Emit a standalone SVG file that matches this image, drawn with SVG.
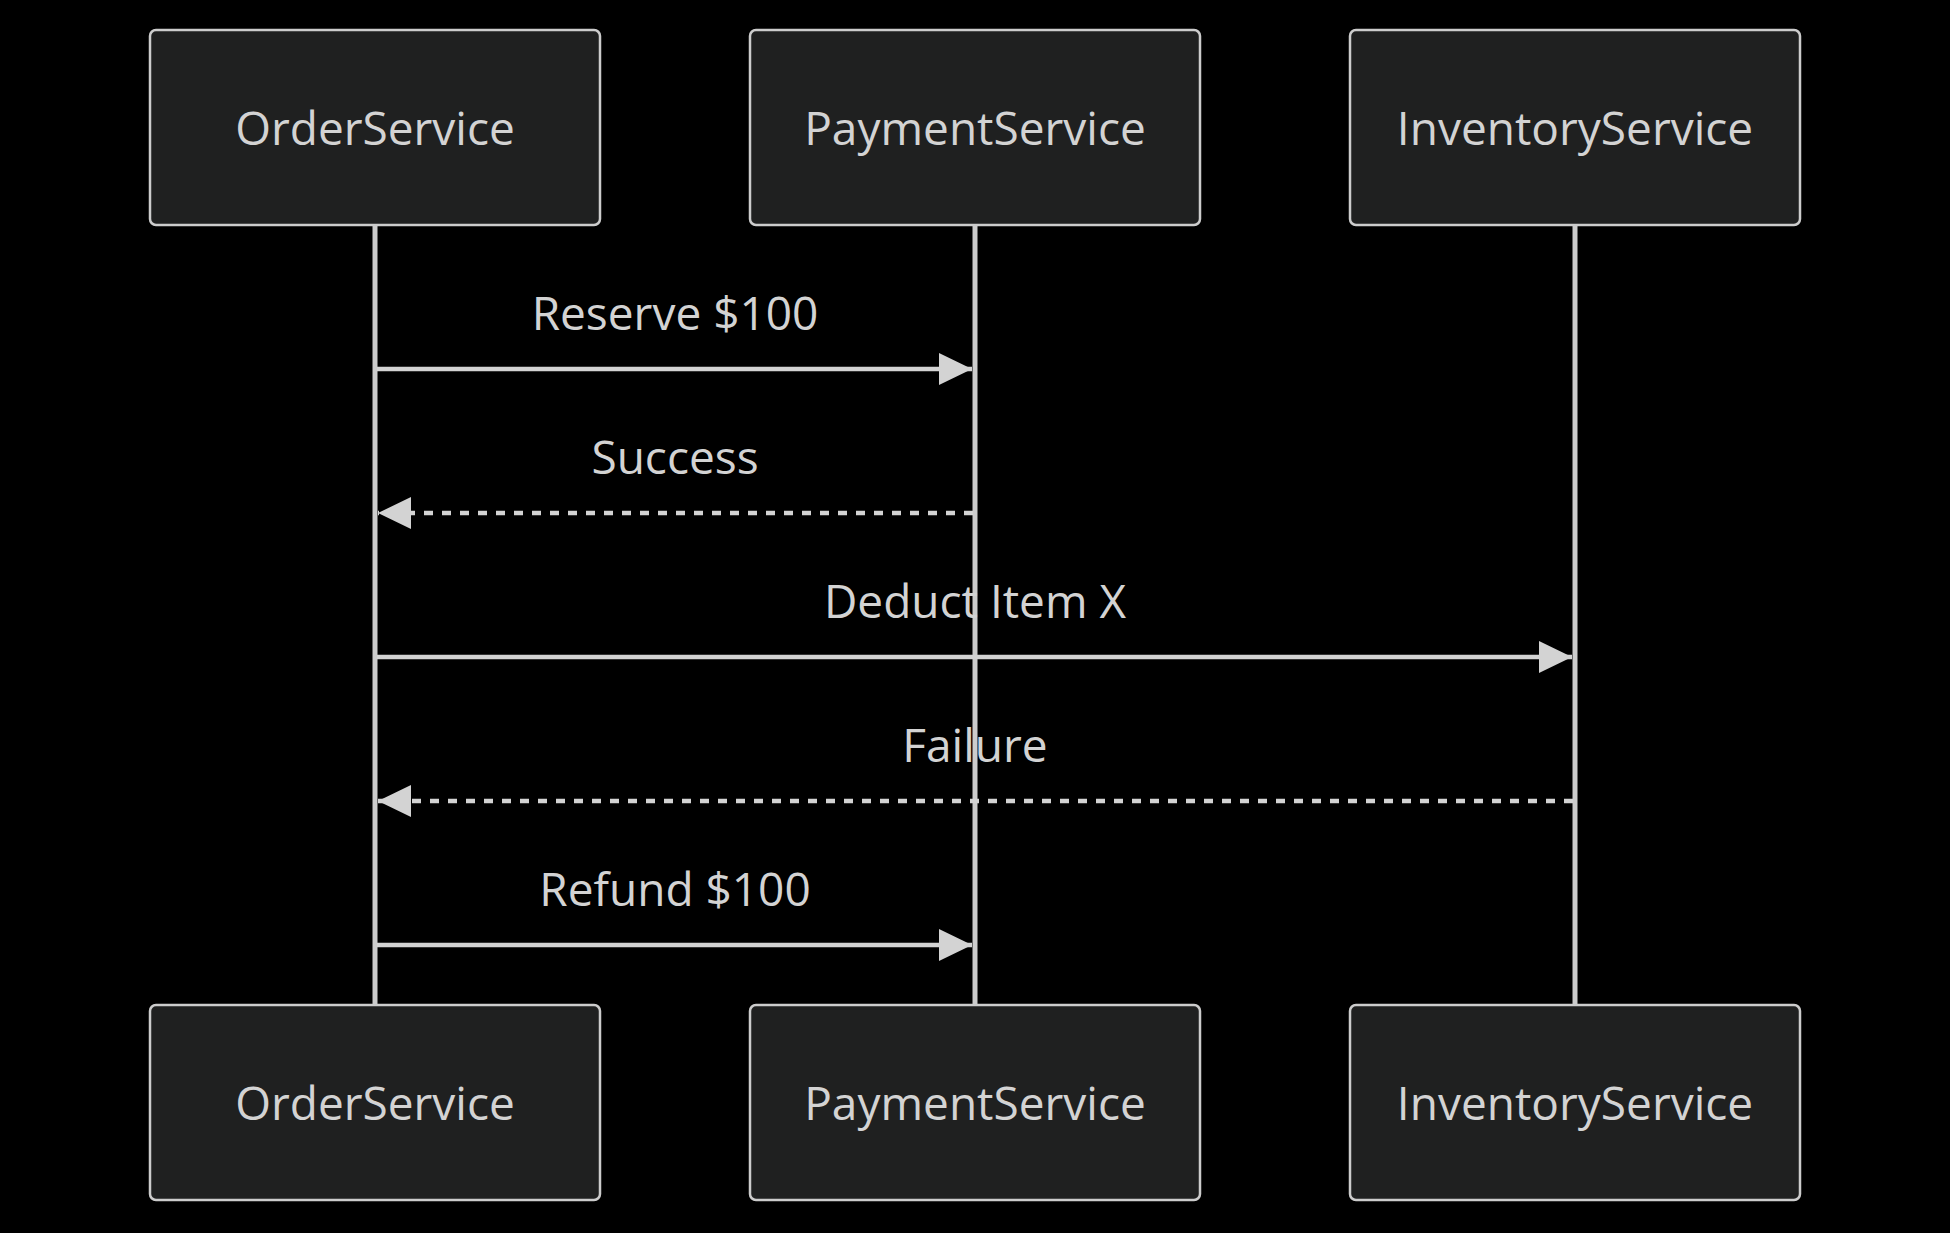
<svg xmlns="http://www.w3.org/2000/svg" width="1950" height="1233" viewBox="0 0 1950 1233">
<style>
.actor{fill:#1f2020;stroke:#cccccc;stroke-width:2.5}
.atext{font-family:"Open Sans","Noto Sans",sans-serif;font-size:46px;fill:#d3d3d3;text-anchor:middle}
.life{stroke:#cccccc;stroke-width:5}
.msg{stroke:#d3d3d3;stroke-width:4.5;fill:none}
.dash{stroke-dasharray:9,9}
.mtext{font-family:"Open Sans","Noto Sans",sans-serif;font-size:46px;fill:#d3d3d3;text-anchor:middle}
</style>
<defs>
<marker id="ah" viewBox="0 0 33 32" refX="33" refY="16" markerWidth="33" markerHeight="32" markerUnits="userSpaceOnUse" orient="auto">
<path d="M0,0 L33,16 L0,32 z" fill="#d3d3d3"/>
</marker>
</defs>
<rect width="1950" height="1233" fill="#000000"/>
<g id="lifelines">
<line class="life" x1="375" y1="225" x2="375" y2="1005"/>
<line class="life" x1="975" y1="225" x2="975" y2="1005"/>
<line class="life" x1="1575" y1="225" x2="1575" y2="1005"/>
</g>
<g id="OrderService-top"><rect class="actor" x="150" y="30" width="450" height="195" rx="6"/><text class="atext" x="375" y="145">OrderService</text></g>
<g id="PaymentService-top"><rect class="actor" x="750" y="30" width="450" height="195" rx="6"/><text class="atext" x="975" y="145">PaymentService</text></g>
<g id="InventoryService-top"><rect class="actor" x="1350" y="30" width="450" height="195" rx="6"/><text class="atext" x="1575" y="145">InventoryService</text></g>
<g id="OrderService-bottom"><rect class="actor" x="150" y="1005" width="450" height="195" rx="6"/><text class="atext" x="375" y="1120">OrderService</text></g>
<g id="PaymentService-bottom"><rect class="actor" x="750" y="1005" width="450" height="195" rx="6"/><text class="atext" x="975" y="1120">PaymentService</text></g>
<g id="InventoryService-bottom"><rect class="actor" x="1350" y="1005" width="450" height="195" rx="6"/><text class="atext" x="1575" y="1120">InventoryService</text></g>
<g id="connectors">
<line class="msg" x1="377" y1="369" x2="972" y2="369" marker-end="url(#ah)"/>
<text class="mtext" x="675" y="330">Reserve $100</text>
<line class="msg dash" x1="973" y1="513" x2="378" y2="513" marker-end="url(#ah)"/>
<text class="mtext" x="675" y="474">Success</text>
<line class="msg" x1="377" y1="657" x2="1572" y2="657" marker-end="url(#ah)"/>
<text class="mtext" x="975" y="618">Deduct Item X</text>
<line class="msg dash" x1="1573" y1="801" x2="378" y2="801" marker-end="url(#ah)"/>
<text class="mtext" x="975" y="762">Failure</text>
<line class="msg" x1="377" y1="945" x2="972" y2="945" marker-end="url(#ah)"/>
<text class="mtext" x="675" y="906">Refund $100</text>
</g>
</svg>
